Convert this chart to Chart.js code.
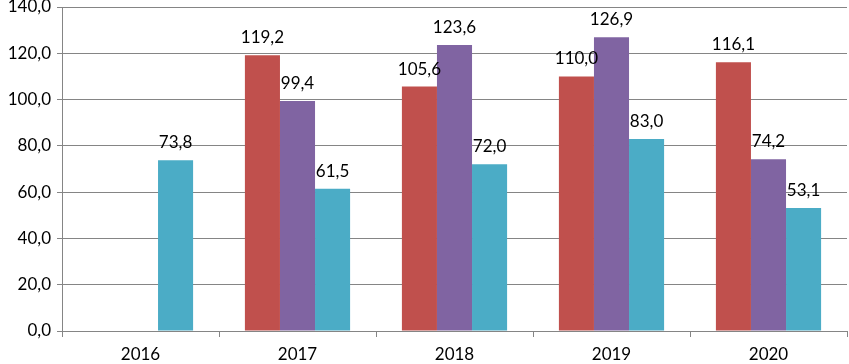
<!DOCTYPE html>
<html>
<head>
<meta charset="utf-8">
<script src="https://cdn.jsdelivr.net/npm/chart.js@4/dist/chart.umd.min.js"></script>
<style>
  html, body { margin: 0; padding: 0; background: #fff; }
  #wrap { width: 849px; height: 364px; }
</style>
</head>
<body>
<div id="wrap"><canvas id="chart" width="849" height="364"></canvas></div>
<script>
const years = ["2016", "2017", "2018", "2019", "2020"];
const serieRoja = [null, 119.2, 105.6, 110.0, 116.1];
const serieMorada = [null, 99.4, 123.6, 126.9, 74.2];
const serieAzul = [73.8, 61.5, 72.0, 83.0, 53.1];

const fontFamily = "Lato, 'Open Sans', sans-serif";

function formato(v) {
  return v.toFixed(1).replace(".", ",");
}

// etiquetas encima de cada barra
const etiquetas = {
  id: "etiquetas",
  afterDatasetsDraw(chart) {
    const ctx = chart.ctx;
    ctx.save();
    ctx.font = "17px " + fontFamily;
    ctx.fillStyle = "#000";
    ctx.textAlign = "center";
    ctx.textBaseline = "bottom";
    chart.data.datasets.forEach((ds, i) => {
      const meta = chart.getDatasetMeta(i);
      meta.data.forEach((bar, j) => {
        const v = ds.data[j];
        if (v === null) return;
        ctx.fillText(formato(v), bar.x, bar.y - 9);
      });
    });
    ctx.restore();
  }
};

const chart = new Chart(document.getElementById("chart"), {
  type: "bar",
  data: {
    labels: years,
    datasets: [
      { data: serieRoja, backgroundColor: "#C0504D" },
      { data: serieMorada, backgroundColor: "#8064A2" },
      { data: serieAzul, backgroundColor: "#4BACC6" }
    ]
  },
  options: {
    responsive: false,
    animation: false,
    layout: { padding: { top: 7, right: 2, left: 0, bottom: 0 } },
    datasets: { bar: { categoryPercentage: 0.67, barPercentage: 1.0 } },
    plugins: { legend: { display: false }, tooltip: { enabled: false } },
    scales: {
      x: {
        grid: { display: true, drawOnChartArea: false, offset: true, tickLength: 6, color: "#858585" },
        border: { display: true, color: "#858585" },
        ticks: { font: { family: fontFamily, size: 17 }, color: "#000", padding: 7 },
        afterFit(scale) { scale.height = 33; }
      },
      y: {
        min: 0,
        max: 140,
        grid: { color: "#858585", tickLength: 5 },
        border: { display: true, color: "#858585" },
        ticks: {
          stepSize: 20,
          font: { family: fontFamily, size: 17 },
          color: "#000",
          padding: 6,
          callback: (v) => formato(v)
        },
        afterFit(scale) {
          scale.width = 62;
          scale.paddingTop = 0;
          scale.paddingBottom = 0;
        }
      }
    }
  },
  plugins: [etiquetas]
});
</script>
</body>
</html>
